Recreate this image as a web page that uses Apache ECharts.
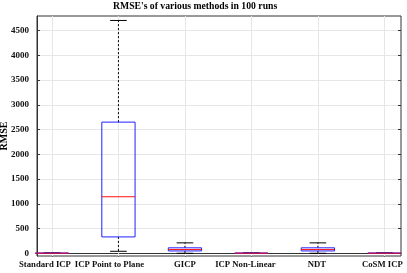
<!DOCTYPE html>
<html><head><meta charset="utf-8">
<script src="https://cdn.jsdelivr.net/npm/echarts@6/dist/echarts.min.js"></script>
<style>html,body{margin:0;padding:0;background:#fff}#c{width:407px;height:273px}</style>
</head><body><div id="c"></div>
<script>
const categories = ['Standard ICP', 'ICP Point to Plane', 'GICP', 'ICP Non-Linear', 'NDT', 'CoSM ICP'];
const mins    = [1, 45, 5, 1, 5, 1];
const q1s     = [4, 335, 52, 4, 52, 4];
const medians = [7, 1145, 80, 7, 80, 7];
const q3s     = [10, 2650, 115, 10, 115, 10];
const maxs    = [14, 4700, 215, 14, 215, 14];
const yTicks  = [0, 500, 1000, 1500, 2000, 2500, 3000, 3500, 4000, 4500];
const xTicks  = [1, 2, 3, 4, 5, 6];
// pixel nudges of the category labels (style only)
const labelNudge = [-7, -9, 0, -6, -1, -2];

const FONT = 'Liberation Serif';
const XMIN = 0.775, XMAX = 6.25, YMIN = -50, YMAX = 4790;
const data = categories.map((c, i) => [i + 1, mins[i], q1s[i], medians[i], q3s[i], maxs[i]]);

function renderItem(params, api) {
  const x = api.value(0);
  const lo = api.value(1), q1 = api.value(2), med = api.value(3), q3 = api.value(4), hi = api.value(5);
  const hb = 0.25, hc = 0.125;
  const c = (xx, yy) => api.coord([xx, yy]);
  const line = (a, b, style) => ({ type: 'line', shape: { x1: a[0], y1: a[1], x2: b[0], y2: b[1] }, style: style });
  const dashed = { stroke: '#000', lineWidth: 1, lineDash: [2, 2] };
  const solid = { stroke: '#000', lineWidth: 1 };
  const bl = c(x - hb, q1), tr = c(x + hb, q3);
  return {
    type: 'group',
    children: [
      line(c(x, q3), c(x, hi), dashed),
      line(c(x, q1), c(x, lo), dashed),
      line(c(x - hc, hi), c(x + hc, hi), solid),
      line(c(x - hc, lo), c(x + hc, lo), solid),
      { type: 'rect', shape: { x: bl[0], y: tr[1], width: tr[0] - bl[0], height: bl[1] - tr[1] },
        style: { fill: 'none', stroke: '#2020ff', lineWidth: 1 } },
      line(c(x - hb, med), c(x + hb, med), { stroke: '#ff1010', lineWidth: 1 })
    ]
  };
}

function renderVGrid(params, api) {
  const x = api.value(0);
  const a = api.coord([x, YMIN]), b = api.coord([x, YMAX]);
  const px = Math.round(a[0]) + 0.5;
  return {
    type: 'group',
    children: [
      { type: 'line', shape: { x1: px, y1: a[1], x2: px, y2: b[1] }, style: { stroke: '#e6e6e6', lineWidth: 1 } },
      { type: 'text', x: a[0] + labelNudge[x - 1], y: a[1] + 4,
        style: { text: categories[x - 1], textAlign: 'center', textVerticalAlign: 'top',
          fontFamily: FONT, fontWeight: 'bold', fontSize: 8.7, fill: '#111' } }
    ]
  };
}

const chart = echarts.init(document.getElementById('c'), null, { renderer: 'canvas' });
const axisText = { fontFamily: FONT, fontWeight: 'bold', fontSize: 9, color: '#111' };
chart.setOption({
  animation: false,
  backgroundColor: '#fff',
  title: { text: "RMSE's of various methods in 100 runs", left: 108, top: -4,
    textStyle: { fontFamily: FONT, fontWeight: 'bold', fontSize: 9.7, color: '#000' } },
  grid: { left: 37, right: 6, top: 16, bottom: 17, show: true, borderColor: '#333', borderWidth: 1,
    outerBoundsMode: 'none', containLabel: false },
  xAxis: [{
    type: 'value', min: XMIN, max: XMAX,
    axisLine: { show: true, lineStyle: { color: '#333' } },
    axisTick: { show: true, inside: true, length: 3, customValues: xTicks, lineStyle: { color: '#333' } },
    axisLabel: { show: false },
    splitLine: { show: false }
  }, {
    type: 'value', position: 'top', min: XMIN, max: XMAX,
    axisLine: { show: false },
    axisTick: { show: true, inside: true, length: 3, customValues: xTicks, lineStyle: { color: '#333' } },
    axisLabel: { show: false }, splitLine: { show: false }
  }],
  yAxis: [{
    type: 'value', min: YMIN, max: YMAX,
    name: 'RMSE', nameLocation: 'middle', nameGap: 28, nameMoveOverlap: false,
    nameTextStyle: { fontFamily: FONT, fontWeight: 'bold', fontSize: 10, color: '#000' },
    axisLine: { show: true, lineStyle: { color: '#333' } },
    axisTick: { show: true, inside: true, length: 3, customValues: yTicks, lineStyle: { color: '#333' } },
    axisLabel: { customValues: yTicks, margin: 8, formatter: v => String(v), ...axisText },
    splitLine: { show: true, lineStyle: { color: '#e6e6e6' } }
  }, {
    type: 'value', position: 'right', min: YMIN, max: YMAX,
    axisLine: { show: false },
    axisTick: { show: true, inside: true, length: 3, customValues: yTicks, lineStyle: { color: '#333' } },
    axisLabel: { show: false }, splitLine: { show: false }
  }],
  series: [{
    type: 'custom', renderItem: renderVGrid, data: xTicks.map(v => [v]), encode: { x: 0 }, z: 1, silent: true, clip: false
  }, {
    type: 'custom', renderItem: renderItem, data: data,
    encode: { x: 0, y: [1, 2, 3, 4, 5] }, clip: false, z: 2
  }]
});
</script></body></html>
